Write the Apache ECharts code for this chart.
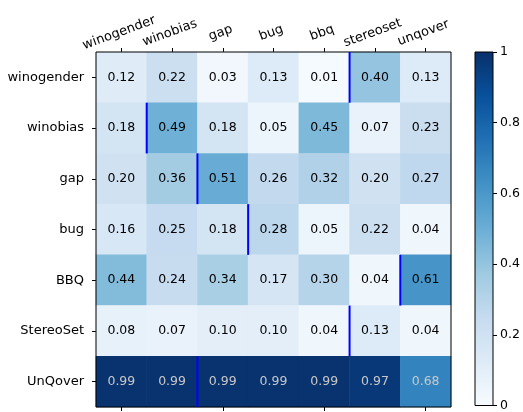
<!DOCTYPE html>
<html>
<head>
<meta charset="utf-8">
<script src="https://cdn.jsdelivr.net/npm/echarts@6/dist/echarts.min.js"></script>
<style>html,body{margin:0;padding:0;background:#fff}#c{width:523px;height:412px}</style>
</head>
<body>
<div id="c"></div>
<script>
const colCategories = ['winogender','winobias','gap','bug','bbq','stereoset','unqover'];
const rowCategories = ['winogender','winobias','gap','bug','BBQ','StereoSet','UnQover'];
const values = [
  [0.12, 0.22, 0.03, 0.13, 0.01, 0.40, 0.13],
  [0.18, 0.49, 0.18, 0.05, 0.45, 0.07, 0.23],
  [0.20, 0.36, 0.51, 0.26, 0.32, 0.20, 0.27],
  [0.16, 0.25, 0.18, 0.28, 0.05, 0.22, 0.04],
  [0.44, 0.24, 0.34, 0.17, 0.30, 0.04, 0.61],
  [0.08, 0.07, 0.10, 0.10, 0.04, 0.13, 0.04],
  [0.99, 0.99, 0.99, 0.99, 0.99, 0.97, 0.68]
];
const highlightCol = [5, 1, 2, 3, 6, 5, 2];
const colorbarTicks = [0, 0.2, 0.4, 0.6, 0.8, 1];

const blues = ['#f7fbff','#deebf7','#c6dbef','#9ecae1','#6baed6','#4292c6','#2171b5','#08519c','#08306b'];
const FONT = 'DejaVu Sans';

const heatData = [];
values.forEach((row, r) => row.forEach((v, c) => {
  heatData.push({value: [c, r, v], label: {color: v > 0.65 ? '#c8c8c8' : '#000'}});
}));
const lineData = highlightCol.map((c, r) => [c, r]);

const chart = echarts.init(document.getElementById('c'), null, {renderer: 'canvas'});
chart.setOption({
  animation: false,
  backgroundColor: '#fff',
  textStyle: {fontFamily: FONT},
  grid: [
    {left: 96, right: 72, top: 52, bottom: 5, show: true, z: 4, borderColor: '#000', borderWidth: 1, backgroundColor: 'transparent'},
    {left: 475, width: 18, top: 52, bottom: 5, show: true, z: 4, borderColor: '#000', borderWidth: 1, backgroundColor: 'transparent'}
  ],
  xAxis: [
    {type: 'category', data: colCategories, position: 'top', gridIndex: 0,
     axisLine: {show: false}, splitLine: {show: false},
     axisTick: {show: true, alignWithLabel: true, length: 4, lineStyle: {color: '#000'}},
     axisLabel: {rotate: -20, align: 'center', verticalAlign: 'bottom', fontSize: 13, color: '#000', fontFamily: FONT, margin: 13, interval: 0}},
    {type: 'category', data: colCategories, position: 'bottom', gridIndex: 0,
     axisLine: {show: false}, splitLine: {show: false},
     axisTick: {show: true, alignWithLabel: true, length: 4, lineStyle: {color: '#000'}},
     axisLabel: {show: false}},
    {type: 'category', data: ['cb'], gridIndex: 1, show: false}
  ],
  yAxis: [
    {type: 'category', data: rowCategories, inverse: true, gridIndex: 0,
     axisLine: {show: false}, splitLine: {show: false},
     axisTick: {show: true, alignWithLabel: true, length: 4, lineStyle: {color: '#000'}},
     axisLabel: {fontSize: 13, color: '#000', fontFamily: FONT, margin: 12, interval: 0}},
    {type: 'value', min: 0, max: 1, interval: 0.2, position: 'right', gridIndex: 1,
     axisLine: {show: false}, splitLine: {show: false},
     axisTick: {show: true, length: 4, lineStyle: {color: '#000'}},
     axisLabel: {fontSize: 12.5, color: '#000', fontFamily: FONT, margin: 7,
       customValues: colorbarTicks}}
  ],
  visualMap: {
    show: false, min: 0, max: 1, seriesIndex: 0, dimension: 2,
    inRange: {color: blues}
  },
  series: [
    {type: 'heatmap', xAxisIndex: 0, yAxisIndex: 0, data: heatData,
     label: {show: true, fontSize: 12.5, fontFamily: FONT,
       formatter: p => p.value[2].toFixed(2)},
     itemStyle: {borderWidth: 0},
     emphasis: {disabled: true}},
    {type: 'custom', xAxisIndex: 0, yAxisIndex: 0, z: 5, data: lineData,
     renderItem: function (params, api) {
       const p = api.coord([api.value(0), api.value(1)]);
       const s = api.size([1, 1]);
       const x = p[0] - s[0] / 2;
       return {type: 'line', shape: {x1: x, y1: p[1] - s[1] / 2, x2: x, y2: p[1] + s[1] / 2},
               style: {stroke: '#0000ff', lineWidth: 2}};
     }},
    {type: 'bar', xAxisIndex: 2, yAxisIndex: 1, data: [1], barWidth: '100%',
     silent: true,
     itemStyle: {color: new echarts.graphic.LinearGradient(0, 1, 0, 0,
       blues.map((c, i) => ({offset: i / (blues.length - 1), color: c})))}}
  ]
});
</script>
</body>
</html>
